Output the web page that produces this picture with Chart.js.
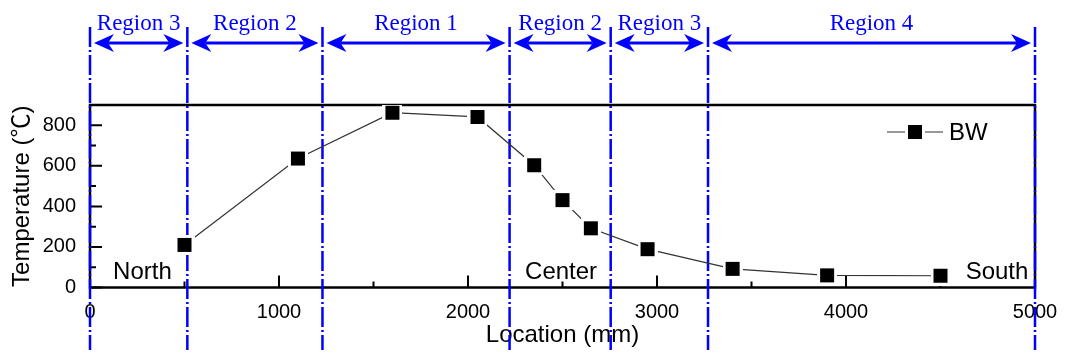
<!DOCTYPE html>
<html>
<head>
<meta charset="utf-8">
<script src="https://cdn.jsdelivr.net/npm/chart.js@4.4.1/dist/chart.umd.min.js"></script>
<style>
  html, body { margin: 0; padding: 0; background: #fff; }
  canvas { display: block; }
</style>
</head>
<body>
<canvas id="chart" width="1065" height="355"></canvas>
<script>
// Measured temperatures along the wall (BW series)
const locations = [500, 1100, 1600, 2050, 2350, 2500, 2650, 2950, 3400, 3900, 4500];
const temperatures = [210, 636, 862, 841, 603, 431, 292, 189, 92, 60, 58];
const seriesName = 'BW';

// Axis ticks
const xTicks = [0, 1000, 2000, 3000, 4000, 5000];
const xMinorTicks = [500, 1500, 2500, 3500, 4500];
const yTicks = [0, 200, 400, 600, 800];
const yMinorTicks = [100, 300, 500, 700];

// Region boundaries (mm) and the region between each pair
const regionBounds = [0, 515, 1230, 2220, 2755, 3270, 5000];
const regionNames = ['Region 3', 'Region 2', 'Region 1', 'Region 2', 'Region 3', 'Region 4'];

// Side names along the bottom of the plot (left edge, mm)
const sideNames = ['North', 'Center', 'South'];
const sideAt = [122, 2302, 4633];

const SANS = '"Liberation Sans", Arial, "Noto Sans CJK SC", sans-serif';
const SERIF = '"Liberation Serif", "Times New Roman", serif';
const BLUE = '#0000ff';

// Filled square with a white margin so the connecting line stops short of it
function squareMarker(side, halo) {
  const c = document.createElement('canvas');
  const n = side + 2 * halo;
  c.width = n; c.height = n;
  const g = c.getContext('2d');
  g.fillStyle = '#fff'; g.fillRect(0, 0, n, n);
  g.fillStyle = '#000'; g.fillRect(halo, halo, side, side);
  return c;
}
const marker = squareMarker(14, 3);

function arrowHead(ctx, tipX, y, dir) {
  // dir = +1 points right, -1 points left
  const len = 20, half = 9, notch = 14;
  ctx.beginPath();
  ctx.moveTo(tipX, y);
  ctx.lineTo(tipX - dir * len, y - half);
  ctx.lineTo(tipX - dir * notch, y);
  ctx.lineTo(tipX - dir * len, y + half);
  ctx.closePath();
  ctx.fill();
}

const decor = {
  id: 'decor',
  beforeDatasetsDraw(chart) {
    const { ctx, chartArea: a, scales: { x, y } } = chart;
    ctx.save();
    ctx.strokeStyle = '#000';
    ctx.lineWidth = 2;
    ctx.lineCap = 'butt';
    // inward tick marks
    ctx.beginPath();
    xTicks.forEach(v => { const p = x.getPixelForValue(v); ctx.moveTo(p, a.bottom); ctx.lineTo(p, a.bottom - 12); });
    xMinorTicks.forEach(v => { const p = x.getPixelForValue(v); ctx.moveTo(p, a.bottom); ctx.lineTo(p, a.bottom - 6); });
    yTicks.forEach(v => { const p = y.getPixelForValue(v); ctx.moveTo(a.left, p); ctx.lineTo(a.left + 12, p); });
    yMinorTicks.forEach(v => { const p = y.getPixelForValue(v); ctx.moveTo(a.left, p); ctx.lineTo(a.left + 6, p); });
    ctx.stroke();
    // plot frame
    ctx.lineWidth = 2.5;
    ctx.strokeRect(a.left, a.top, a.right - a.left, a.bottom - a.top);

    // dash-dot region dividers
    ctx.strokeStyle = BLUE;
    ctx.lineWidth = 2.5;
    ctx.setLineDash([20, 3, 2, 3]);
    ctx.beginPath();
    regionBounds.forEach(v => {
      const p = x.getPixelForValue(v);
      ctx.moveTo(p, 27);
      ctx.lineTo(p, 350);
    });
    ctx.stroke();
    ctx.setLineDash([]);

    // double-headed arrows and region names
    const ay = 43;
    ctx.fillStyle = BLUE;
    ctx.lineWidth = 3;
    ctx.font = '23px ' + SERIF;
    ctx.textAlign = 'center';
    ctx.textBaseline = 'alphabetic';
    regionNames.forEach((name, i) => {
      const p0 = x.getPixelForValue(regionBounds[i]) + 4;
      const p1 = x.getPixelForValue(regionBounds[i + 1]) - 4;
      ctx.beginPath();
      ctx.moveTo(p0 + 14, ay);
      ctx.lineTo(p1 - 14, ay);
      ctx.stroke();
      arrowHead(ctx, p0, ay, -1);
      arrowHead(ctx, p1, ay, 1);
      ctx.fillText(name, (p0 + p1) / 2, 30);
    });
    ctx.restore();
  },
  afterDatasetsDraw(chart) {
    const { ctx, chartArea: a, scales: { x } } = chart;
    ctx.save();
    ctx.fillStyle = '#000';
    ctx.font = '24px ' + SANS;
    ctx.textAlign = 'left';
    ctx.textBaseline = 'alphabetic';
    sideNames.forEach((name, i) => {
      ctx.fillText(name, x.getPixelForValue(sideAt[i]), a.bottom - 8.5);
    });

    // legend
    const ds = chart.data.datasets[0];
    const ly = a.top + 27;
    const lx = a.right - 148;
    ctx.strokeStyle = ds.borderColor;
    ctx.lineWidth = 1.2;
    ctx.beginPath();
    ctx.moveTo(lx, ly);
    ctx.lineTo(lx + 56, ly);
    ctx.stroke();
    ctx.drawImage(marker, lx + 28 - marker.width / 2, ly - marker.height / 2);
    ctx.textBaseline = 'middle';
    ctx.fillText(ds.label, lx + 62, ly + 1);
    ctx.restore();
  }
};

new Chart(document.getElementById('chart'), {
  type: 'line',
  data: {
    datasets: [{
      label: seriesName,
      data: locations.map((v, i) => ({ x: v, y: temperatures[i] })),
      borderColor: '#333333',
      borderWidth: 1.2,
      pointStyle: marker,
      pointRadius: 9,
      tension: 0,
      fill: false
    }]
  },
  options: {
    responsive: false,
    animation: false,
    events: [],
    devicePixelRatio: 1,
    layout: { padding: { top: 105, right: 30, left: 0, bottom: 0 } },
    plugins: { legend: { display: false }, tooltip: { enabled: false } },
    scales: {
      x: {
        type: 'linear', min: 0, max: 5000,
        grid: { display: false, drawTicks: false },
        border: { display: false },
        afterBuildTicks: s => { s.ticks = xTicks.map(v => ({ value: v })); },
        afterFit: s => { s.height = 67.5; s.paddingLeft = 0; s.paddingRight = 0; },
        ticks: { font: { family: SANS, size: 20 }, color: '#000', padding: 13, maxRotation: 0, autoSkip: false,
                 callback: v => String(v) },
        title: { display: true, text: 'Location (mm)', color: '#000', font: { family: SANS, size: 24 }, padding: { top: 0, bottom: 5 } }
      },
      y: {
        type: 'linear', min: 0, max: 900,
        grid: { display: false, drawTicks: false },
        border: { display: false },
        afterBuildTicks: s => { s.ticks = yTicks.map(v => ({ value: v })); },
        afterFit: s => { s.width = 90; s.paddingTop = 0; s.paddingBottom = 0; },
        ticks: { font: { family: SANS, size: 20 }, color: '#000', padding: 14, callback: v => String(v) },
        title: { display: true, text: 'Temperature (℃)', color: '#000', font: { family: SANS, size: 24 }, padding: { top: 8, bottom: 0 } }
      }
    }
  },
  plugins: [decor]
});
</script>
</body>
</html>
